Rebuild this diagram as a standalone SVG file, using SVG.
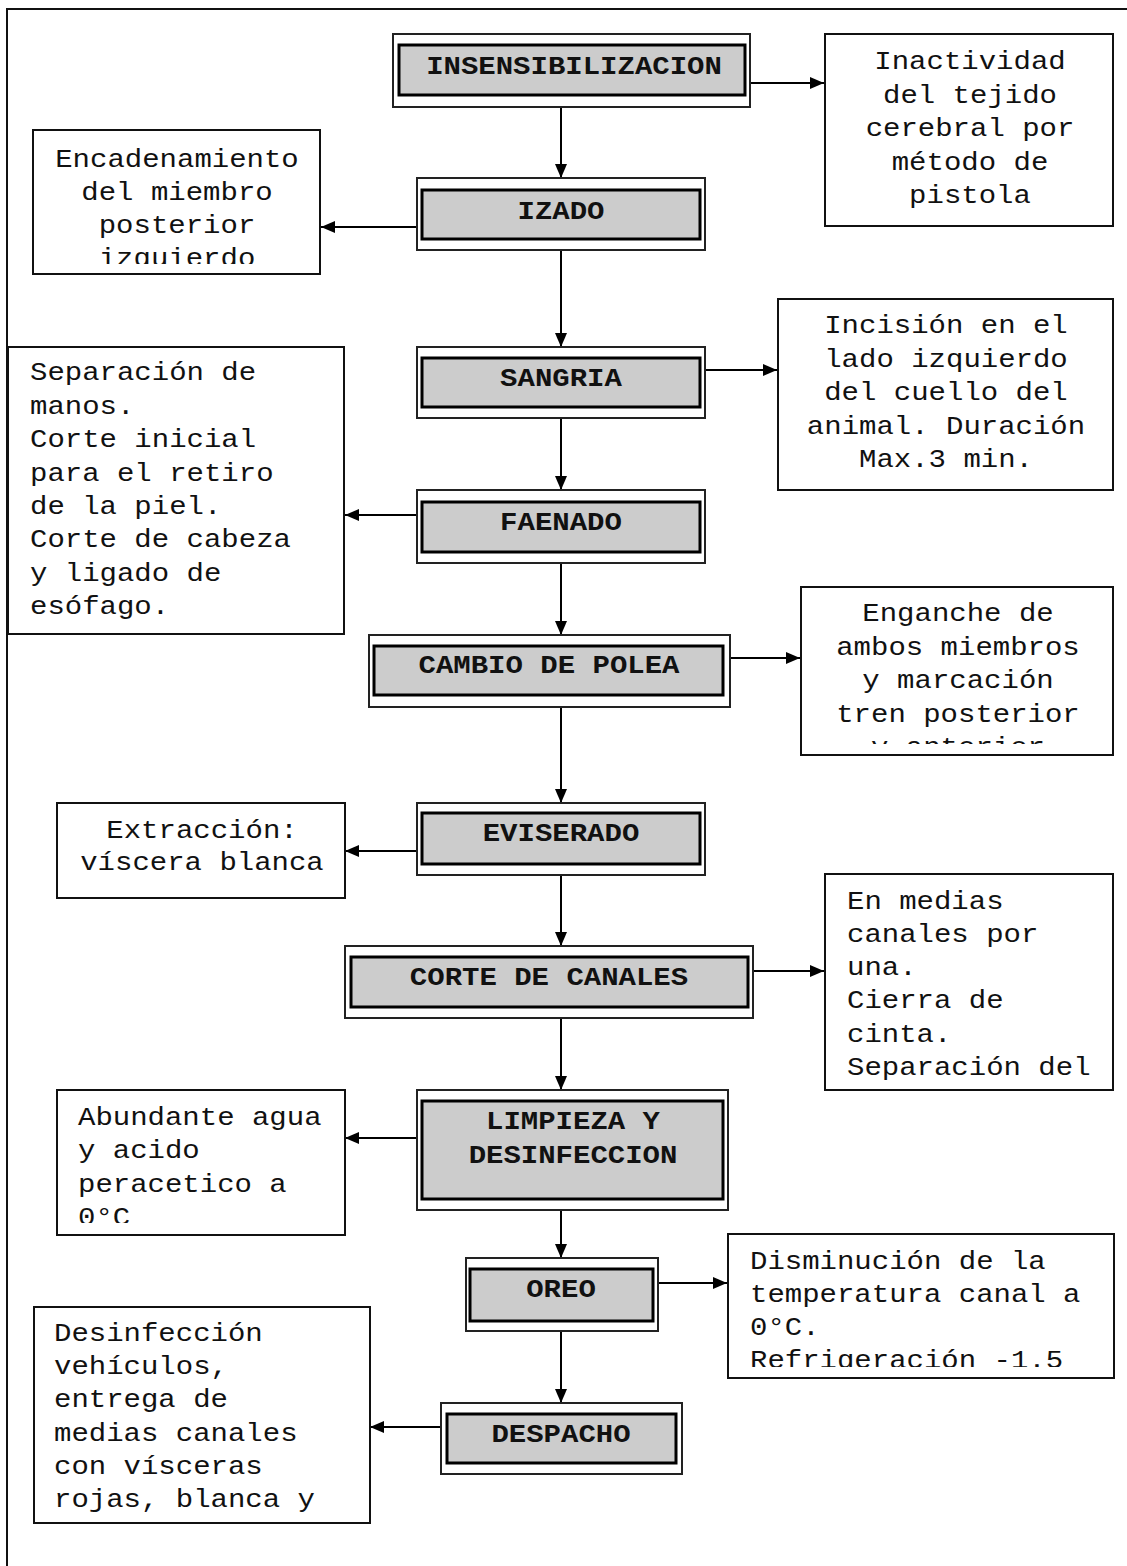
<svg xmlns="http://www.w3.org/2000/svg" width="1127" height="1566" viewBox="0 0 1127 1566">
<defs>
<style>
.frame{fill:#fff;stroke:#222;stroke-width:2}
.inner{fill:#cccccc;stroke:#000;stroke-width:3}
.side{fill:#fff;stroke:#111;stroke-width:2}
.lbl{font-family:"Liberation Mono","Courier New",monospace;font-weight:bold;font-size:25px;text-anchor:middle;fill:#111}
.txt{font-family:"Liberation Mono","Courier New",monospace;font-size:25px;fill:#111}
.c{text-anchor:middle}
.conn line{stroke:#000;stroke-width:2;fill:none;marker-end:url(#ah)}
</style>
<marker id="ah" markerWidth="14" markerHeight="12" refX="14" refY="6" orient="auto" markerUnits="userSpaceOnUse">
<path d="M0,0 L14,6 L0,12 z" fill="#000"/>
</marker>
<clipPath id="clipEnc"><rect x="33" y="130" width="287" height="134"/></clipPath>
<clipPath id="clipEng"><rect x="801" y="587" width="312" height="157"/></clipPath>
<clipPath id="clipAbu"><rect x="57" y="1090" width="288" height="133"/></clipPath>
<clipPath id="clipDis"><rect x="728" y="1234" width="386" height="133"/></clipPath>
</defs>
<rect x="0" y="0" width="1127" height="1566" fill="#fff"/>
<rect x="7" y="9" width="1200" height="1600" fill="none" stroke="#111" stroke-width="2"/>

<g id="connectors" class="conn">
<line x1="750" y1="83" x2="824" y2="83"/>
<line x1="561" y1="107" x2="561" y2="178"/>
<line x1="417" y1="227" x2="321" y2="227"/>
<line x1="561" y1="250" x2="561" y2="347"/>
<line x1="705" y1="370" x2="777" y2="370"/>
<line x1="561" y1="418" x2="561" y2="490"/>
<line x1="417" y1="515" x2="345" y2="515"/>
<line x1="561" y1="563" x2="561" y2="635"/>
<line x1="730" y1="658" x2="800" y2="658"/>
<line x1="561" y1="707" x2="561" y2="803"/>
<line x1="417" y1="851" x2="345" y2="851"/>
<line x1="561" y1="875" x2="561" y2="946"/>
<line x1="753" y1="971" x2="824" y2="971"/>
<line x1="561" y1="1018" x2="561" y2="1090"/>
<line x1="417" y1="1138" x2="345" y2="1138"/>
<line x1="561" y1="1210" x2="561" y2="1258"/>
<line x1="658" y1="1283" x2="727" y2="1283"/>
<line x1="561" y1="1331" x2="561" y2="1403"/>
<line x1="441" y1="1427" x2="370" y2="1427"/>
</g>

<g id="n-insensibilizacion">
<rect class="frame" x="393" y="34" width="357" height="73"/>
<rect class="inner" x="399" y="45" width="346" height="50"/>
<text class="lbl" transform="translate(574,74) scale(1.16,1)">INSENSIBILIZACION</text>
</g>
<g id="n-inactividad">
<rect class="side" x="825" y="34" width="288" height="192"/>
<text class="txt c" transform="translate(970,69) scale(1.16,1)">Inactividad</text>
<text class="txt c" transform="translate(970,103) scale(1.16,1)">del tejido</text>
<text class="txt c" transform="translate(970,136) scale(1.16,1)">cerebral por</text>
<text class="txt c" transform="translate(970,170) scale(1.16,1)">método de</text>
<text class="txt c" transform="translate(970,203) scale(1.16,1)">pistola</text>
</g>

<g id="n-izado">
<rect class="frame" x="417" y="178" width="288" height="72"/>
<rect class="inner" x="422" y="190" width="278" height="49"/>
<text class="lbl" transform="translate(561,219) scale(1.16,1)">IZADO</text>
</g>
<g id="n-encadenamiento">
<rect class="side" x="33" y="130" width="287" height="144"/>
<g clip-path="url(#clipEnc)">
<text class="txt c" transform="translate(177,167) scale(1.16,1)">Encadenamiento</text>
<text class="txt c" transform="translate(177,200) scale(1.16,1)">del miembro</text>
<text class="txt c" transform="translate(177,233) scale(1.16,1)">posterior</text>
<text class="txt c" transform="translate(177,266) scale(1.16,1)">izquierdo</text>
</g>
</g>

<g id="n-sangria">
<rect class="frame" x="417" y="347" width="288" height="71"/>
<rect class="inner" x="422" y="358" width="278" height="49"/>
<text class="lbl" transform="translate(561,386) scale(1.16,1)">SANGRIA</text>
</g>
<g id="n-incision">
<rect class="side" x="778" y="299" width="335" height="191"/>
<text class="txt c" transform="translate(946,333) scale(1.16,1)">Incisión en el</text>
<text class="txt c" transform="translate(946,367) scale(1.16,1)">lado izquierdo</text>
<text class="txt c" transform="translate(946,400) scale(1.16,1)">del cuello del</text>
<text class="txt c" transform="translate(946,434) scale(1.16,1)">animal. Duración</text>
<text class="txt c" transform="translate(946,467) scale(1.16,1)">Max.3 min.</text>
</g>

<g id="n-faenado">
<rect class="frame" x="417" y="490" width="288" height="73"/>
<rect class="inner" x="422" y="502" width="278" height="50"/>
<text class="lbl" transform="translate(561,530) scale(1.16,1)">FAENADO</text>
</g>
<g id="n-separacion">
<rect class="side" x="8" y="347" width="336" height="287"/>
<text class="txt" transform="translate(30,380) scale(1.16,1)">Separación de</text>
<text class="txt" transform="translate(30,414) scale(1.16,1)">manos.</text>
<text class="txt" transform="translate(30,447) scale(1.16,1)">Corte inicial</text>
<text class="txt" transform="translate(30,481) scale(1.16,1)">para el retiro</text>
<text class="txt" transform="translate(30,514) scale(1.16,1)">de la piel.</text>
<text class="txt" transform="translate(30,547) scale(1.16,1)">Corte de cabeza</text>
<text class="txt" transform="translate(30,581) scale(1.16,1)">y ligado de</text>
<text class="txt" transform="translate(30,614) scale(1.16,1)">esófago.</text>
</g>

<g id="n-cambio">
<rect class="frame" x="369" y="635" width="361" height="72"/>
<rect class="inner" x="374" y="646" width="349" height="49"/>
<text class="lbl" transform="translate(549,673) scale(1.16,1)">CAMBIO DE POLEA</text>
</g>
<g id="n-enganche">
<rect class="side" x="801" y="587" width="312" height="168"/>
<g clip-path="url(#clipEng)">
<text class="txt c" transform="translate(958,621) scale(1.16,1)">Enganche de</text>
<text class="txt c" transform="translate(958,655) scale(1.16,1)">ambos miembros</text>
<text class="txt c" transform="translate(958,688) scale(1.16,1)">y marcación</text>
<text class="txt c" transform="translate(958,722) scale(1.16,1)">tren posterior</text>
<text class="txt c" transform="translate(958,755) scale(1.16,1)">y anterior</text>
</g>
</g>

<g id="n-eviserado">
<rect class="frame" x="417" y="803" width="288" height="72"/>
<rect class="inner" x="422" y="813" width="278" height="51"/>
<text class="lbl" transform="translate(561,841) scale(1.16,1)">EVISERADO</text>
</g>
<g id="n-extraccion">
<rect class="side" x="57" y="803" width="288" height="95"/>
<text class="txt c" transform="translate(202,838) scale(1.16,1)">Extracción:</text>
<text class="txt c" transform="translate(202,870) scale(1.16,1)">víscera blanca</text>
</g>

<g id="n-corte">
<rect class="frame" x="345" y="946" width="408" height="72"/>
<rect class="inner" x="351" y="957" width="397" height="50"/>
<text class="lbl" transform="translate(549,985) scale(1.16,1)">CORTE DE CANALES</text>
</g>
<g id="n-enmedias">
<rect class="side" x="825" y="874" width="288" height="216"/>
<text class="txt" transform="translate(847,909) scale(1.16,1)">En medias</text>
<text class="txt" transform="translate(847,942) scale(1.16,1)">canales por</text>
<text class="txt" transform="translate(847,975) scale(1.16,1)">una.</text>
<text class="txt" transform="translate(847,1008) scale(1.16,1)">Cierra de</text>
<text class="txt" transform="translate(847,1042) scale(1.16,1)">cinta.</text>
<text class="txt" transform="translate(847,1075) scale(1.16,1)">Separación del</text>
</g>

<g id="n-limpieza">
<rect class="frame" x="417" y="1090" width="311" height="120"/>
<rect class="inner" x="422" y="1101" width="301" height="98"/>
<text class="lbl" transform="translate(573,1129) scale(1.16,1)">LIMPIEZA Y</text>
<text class="lbl" transform="translate(573,1163) scale(1.16,1)">DESINFECCION</text>
</g>
<g id="n-abundante">
<rect class="side" x="57" y="1090" width="288" height="145"/>
<g clip-path="url(#clipAbu)">
<text class="txt" transform="translate(78,1125) scale(1.16,1)">Abundante agua</text>
<text class="txt" transform="translate(78,1158) scale(1.16,1)">y acido</text>
<text class="txt" transform="translate(78,1192) scale(1.16,1)">peracetico a</text>
<text class="txt" transform="translate(78,1225) scale(1.16,1)">0°C</text>
</g>
</g>

<g id="n-oreo">
<rect class="frame" x="466" y="1258" width="192" height="73"/>
<rect class="inner" x="470" y="1269" width="183" height="52"/>
<text class="lbl" transform="translate(561,1297) scale(1.16,1)">OREO</text>
</g>
<g id="n-disminucion">
<rect class="side" x="728" y="1234" width="386" height="144"/>
<g clip-path="url(#clipDis)">
<text class="txt" transform="translate(750,1269) scale(1.16,1)">Disminución de la</text>
<text class="txt" transform="translate(750,1302) scale(1.16,1)">temperatura canal a</text>
<text class="txt" transform="translate(750,1335) scale(1.16,1)">0°C.</text>
<text class="txt" transform="translate(750,1368) scale(1.16,1)">Refrigeración -1.5</text>
</g>
</g>

<g id="n-despacho">
<rect class="frame" x="441" y="1403" width="241" height="71"/>
<rect class="inner" x="447" y="1414" width="229" height="49"/>
<text class="lbl" transform="translate(561,1442) scale(1.16,1)">DESPACHO</text>
</g>
<g id="n-desinfeccion">
<rect class="side" x="34" y="1307" width="336" height="216"/>
<text class="txt" transform="translate(54,1341) scale(1.16,1)">Desinfección</text>
<text class="txt" transform="translate(54,1374) scale(1.16,1)">vehículos,</text>
<text class="txt" transform="translate(54,1407) scale(1.16,1)">entrega de</text>
<text class="txt" transform="translate(54,1441) scale(1.16,1)">medias canales</text>
<text class="txt" transform="translate(54,1474) scale(1.16,1)">con vísceras</text>
<text class="txt" transform="translate(54,1507) scale(1.16,1)">rojas, blanca y</text>
</g>
</svg>
